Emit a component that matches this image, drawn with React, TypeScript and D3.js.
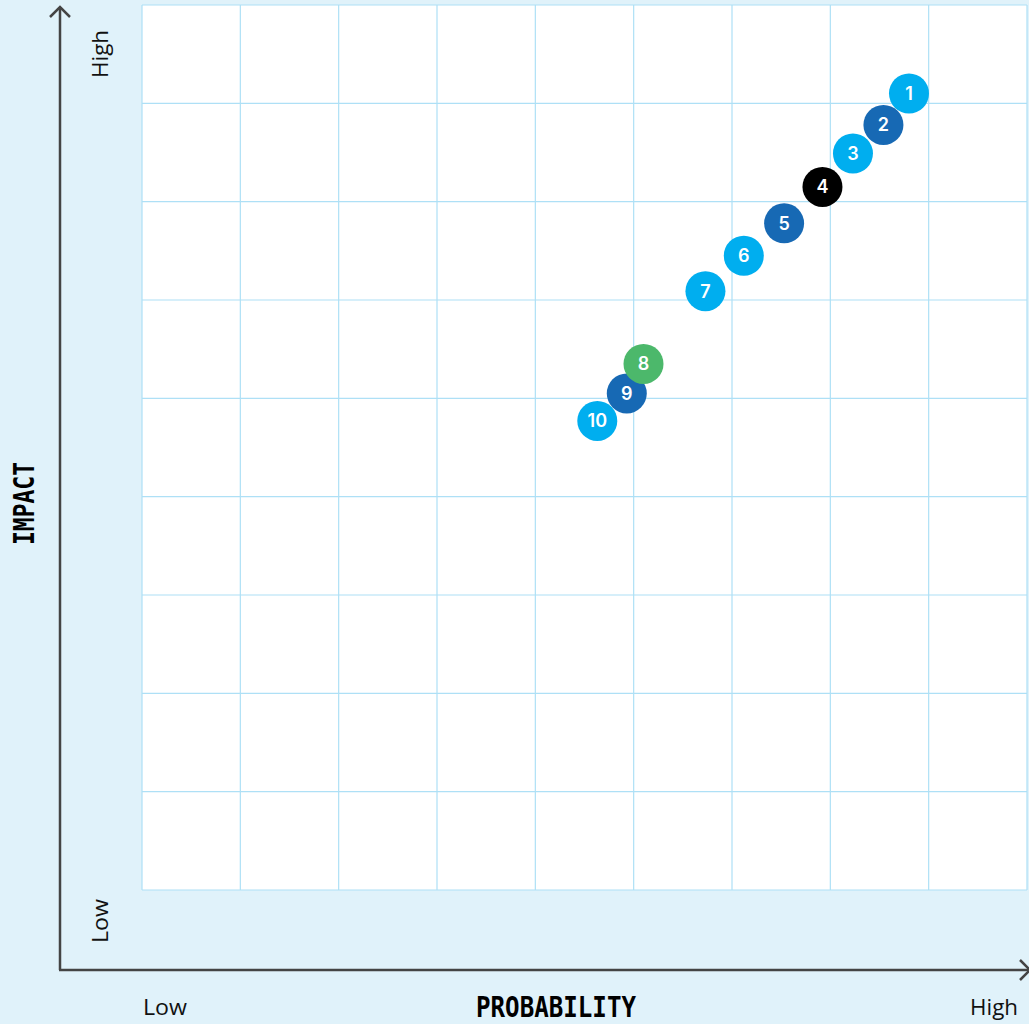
import React from "react";
import * as d3 from "d3";

const W = 1029;
const H = 1024;

// Data (grid units: 0..9 on both axes)
const riskIds = ["1", "2", "3", "4", "5", "6", "7", "8", "9", "10"];
const probability = [7.8, 7.54, 7.23, 6.92, 6.53, 6.12, 5.73, 5.1, 4.93, 4.63];
const impact = [8.1, 7.78, 7.49, 7.15, 6.78, 6.45, 6.09, 5.35, 5.05, 4.77];
const category = ["light", "dark", "light", "black", "dark", "light", "light", "green", "dark", "light"];
const gridTicks = [0, 1, 2, 3, 4, 5, 6, 7, 8, 9];
const axisEndLabels = ["Low", "High"];

const colorOf: Record<string, string> = {
  light: "#00aeef",
  dark: "#1769b4",
  black: "#000000",
  green: "#4cb86b",
};

export default function App() {
  const x = d3.scaleLinear().domain([0, 9]).range([142, 1027]);
  const y = d3.scaleLinear().domain([0, 9]).range([890, 5]);
  const labelFont = "'Open Sans', Lato, sans-serif";
  const titleFont = "'DejaVu Sans Mono', monospace";
  const axisColor = "#444444";
  const lowLen = 44;
  const highLen = 48;

  return (
    <svg
      width={W}
      height={H}
      style={{ position: "absolute", left: 0, top: 0, display: "block" }}
    >
      <rect x={0} y={0} width={W} height={H} fill="#e0f2fa" />
      <rect x={x(0)} y={y(9)} width={x(9) - x(0)} height={y(0) - y(9)} fill="#ffffff" />
      {gridTicks.map((t) => (
        <line key={"v" + t} x1={x(t)} x2={x(t)} y1={y(0)} y2={y(9)} stroke="#aee0f6" strokeWidth={1.2} />
      ))}
      {gridTicks.map((t) => (
        <line key={"h" + t} x1={x(0)} x2={x(9)} y1={y(t)} y2={y(t)} stroke="#aee0f6" strokeWidth={1.2} />
      ))}

      {/* axes */}
      <line x1={60} x2={60} y1={7} y2={970} stroke={axisColor} strokeWidth={2.5} />
      <polyline points="50,17 60,7 70,17" fill="none" stroke={axisColor} strokeWidth={2.5} />
      <line x1={59} x2={1028} y1={970} y2={970} stroke={axisColor} strokeWidth={2.5} />
      <polyline points="1020,960 1030,970 1020,980" fill="none" stroke={axisColor} strokeWidth={2.5} />

      {/* axis end labels */}
      <text x={143} y={1015} fontFamily={labelFont} fontSize={21} textLength={lowLen} lengthAdjust="spacingAndGlyphs" fill="#111">{axisEndLabels[0]}</text>
      <text x={970} y={1015} fontFamily={labelFont} fontSize={21} textLength={highLen} lengthAdjust="spacingAndGlyphs" fill="#111">{axisEndLabels[1]}</text>
      <text transform="translate(108,943) rotate(-90)" fontFamily={labelFont} fontSize={21} textLength={lowLen} lengthAdjust="spacingAndGlyphs" fill="#111">{axisEndLabels[0]}</text>
      <text transform="translate(108,78) rotate(-90)" fontFamily={labelFont} fontSize={21} textLength={highLen} lengthAdjust="spacingAndGlyphs" fill="#111">{axisEndLabels[1]}</text>

      {/* axis titles */}
      <text
        x={476}
        y={1017}
        fontFamily={titleFont}
        fontWeight="bold"
        fontSize={29}
        textLength={160}
        lengthAdjust="spacingAndGlyphs"
        fill="#000"
      >
        PROBABILITY
      </text>
      <text
        transform="translate(34,545) rotate(-90)"
        fontFamily={titleFont}
        fontWeight="bold"
        fontSize={29}
        textLength={83}
        lengthAdjust="spacingAndGlyphs"
        fill="#000"
      >
        IMPACT
      </text>

      {/* points, drawn last-to-first so lower numbers sit on top */}
      {riskIds
        .map((id, i) => ({ id, i }))
        .reverse()
        .map(({ id, i }) => (
          <g key={id} transform={`translate(${x(probability[i])},${y(impact[i])})`}>
            <circle r={20} fill={colorOf[category[i]]} />
            <text
              textAnchor="middle"
              dy="0.36em"
              fontFamily="Inter, 'Noto Sans', sans-serif"
              fontWeight={600}
              fontSize={18}
              fill="#ffffff"
            >
              {id}
            </text>
          </g>
        ))}
    </svg>
  );
}
